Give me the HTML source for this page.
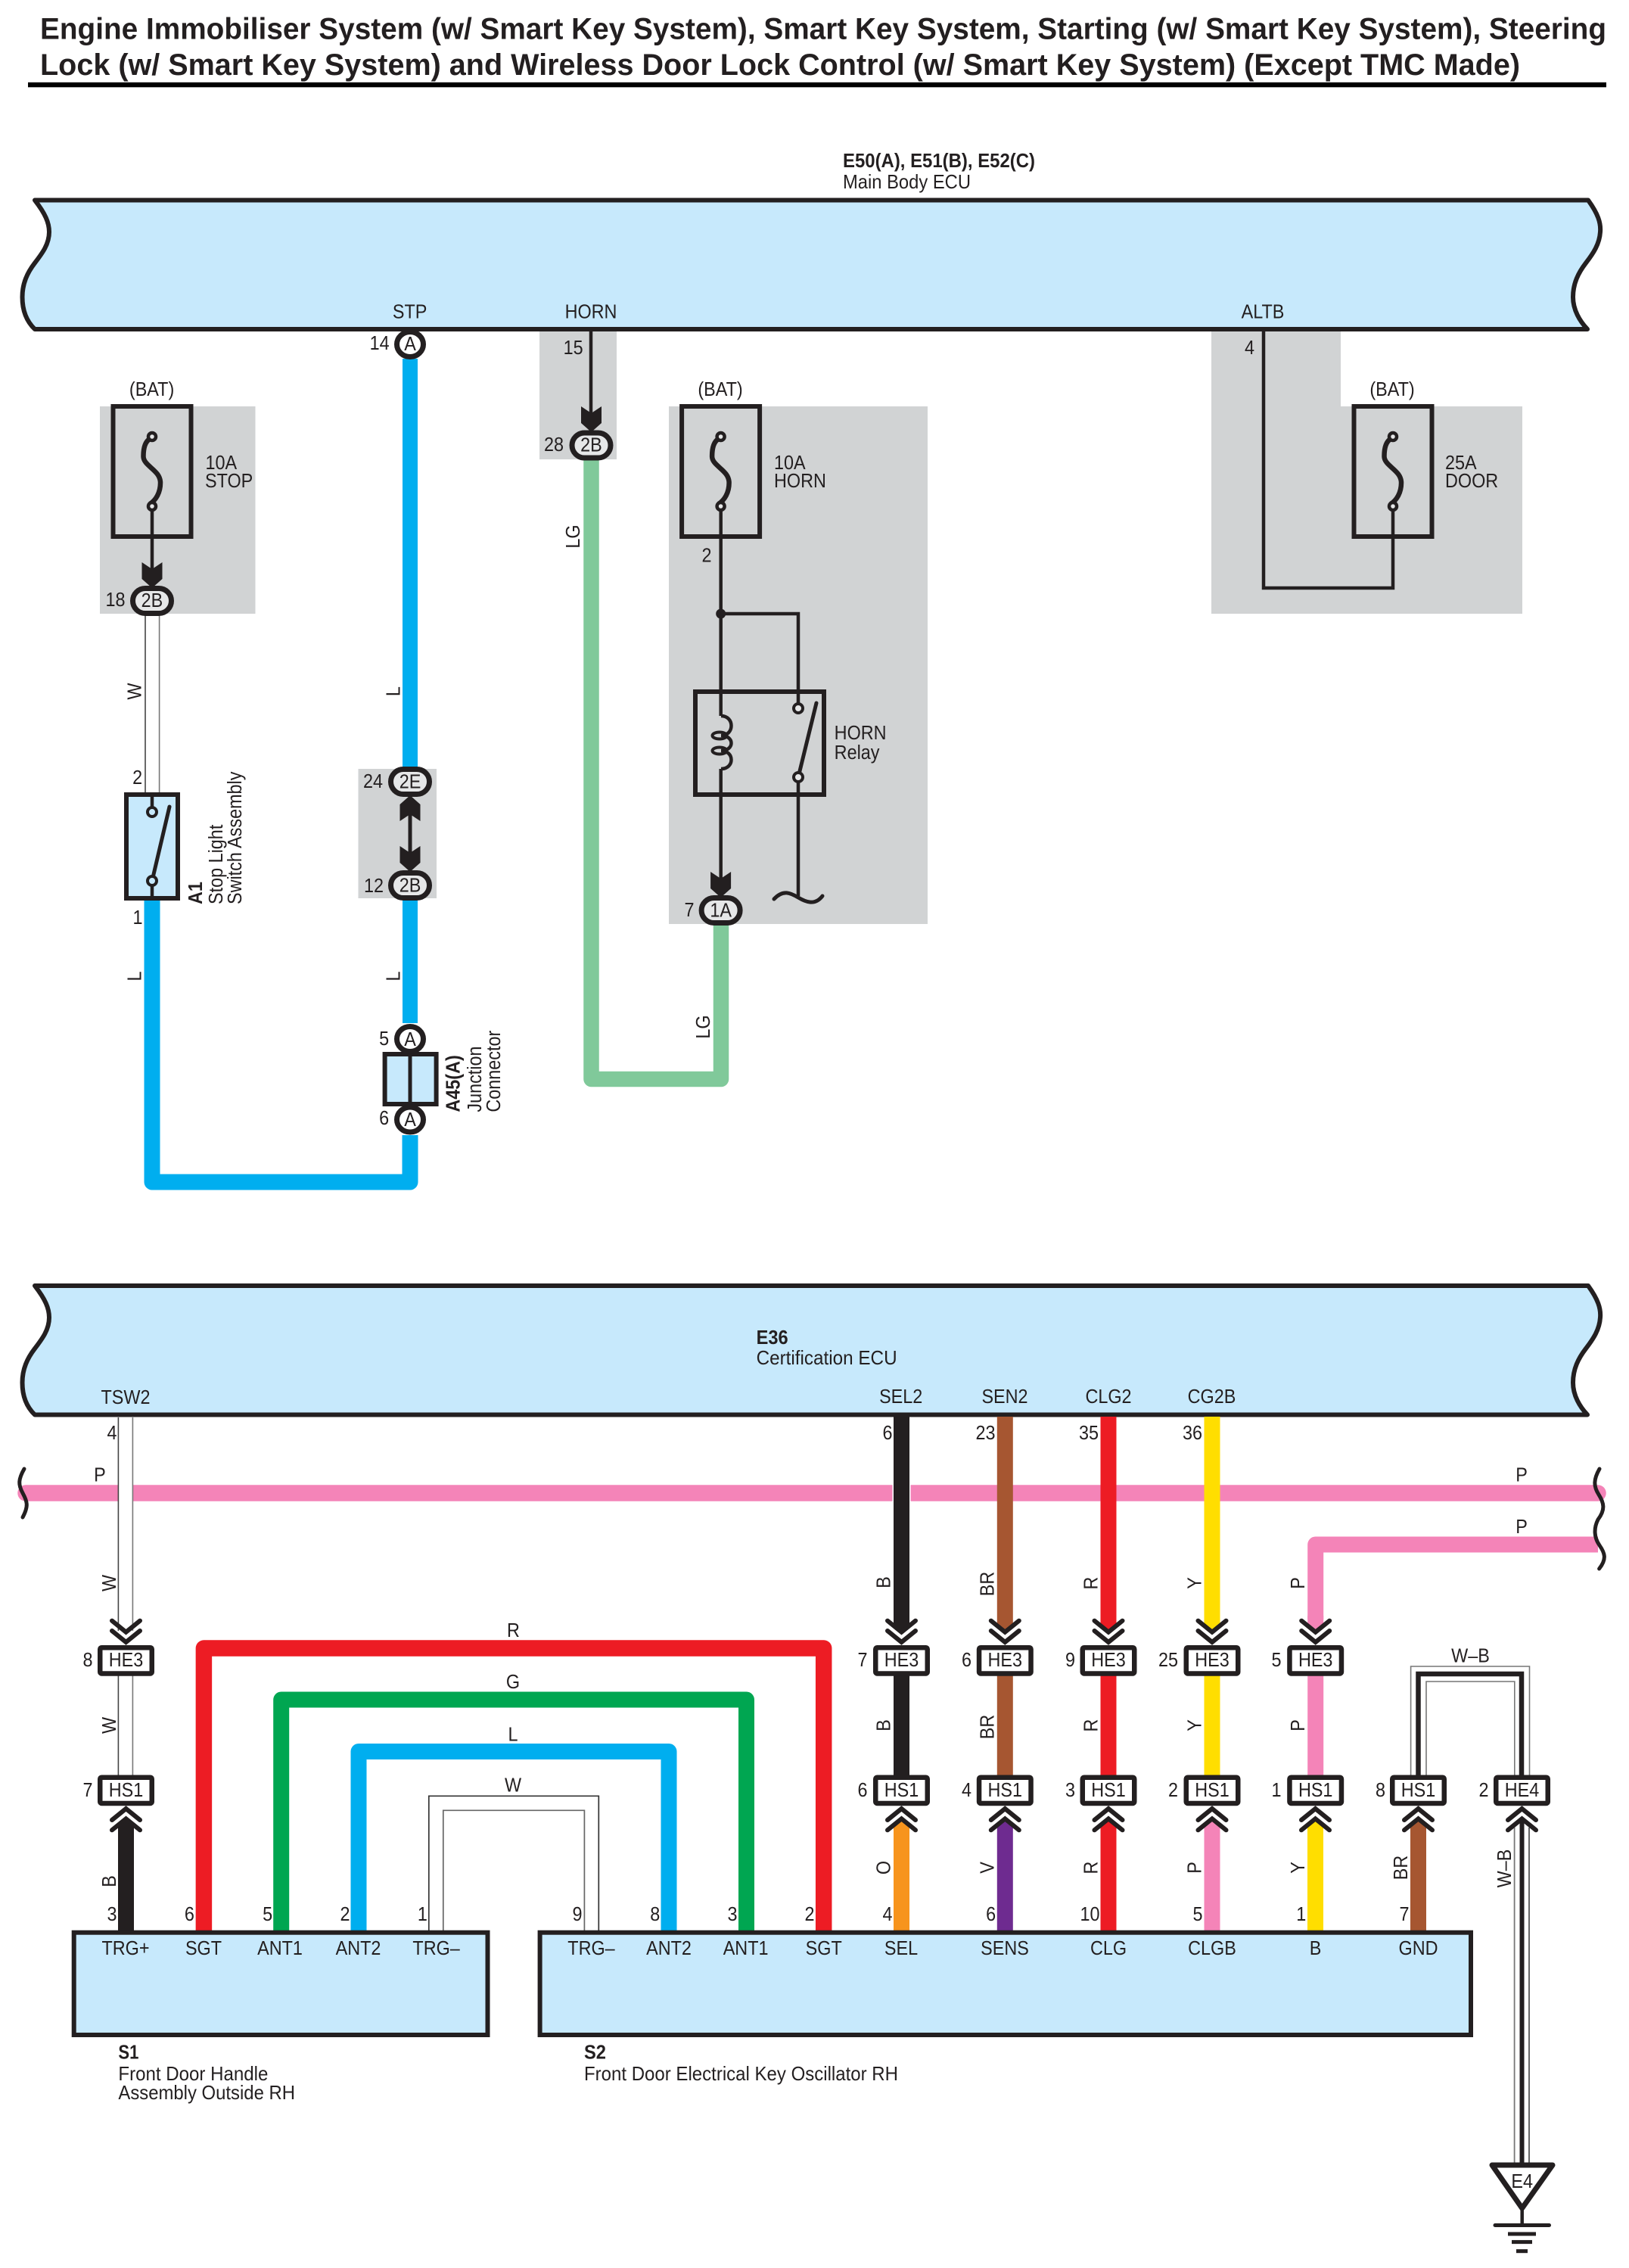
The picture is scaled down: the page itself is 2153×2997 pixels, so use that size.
<!DOCTYPE html>
<html><head><meta charset="utf-8"><style>
html,body{margin:0;padding:0;background:#fff}
svg{display:block}
text{font-family:"Liberation Sans",sans-serif;font-size:26px;fill:#231f20}
.m{text-anchor:middle;transform-box:fill-box;transform-origin:center;transform:scaleX(.9)}
.s{transform-box:fill-box;transform-origin:left center;transform:scaleX(.9)}
.b{font-weight:bold}
.w{fill:none;stroke-linejoin:round}
.k{fill:none;stroke:#231f20;stroke-width:4.5}
</style></head><body>
<svg xmlns="http://www.w3.org/2000/svg" width="2153" height="2997" viewBox="0 0 2153 2997">
<defs>
<path id="ecu" d="M46 0H2099C2112 18 2116 30 2115 42C2114 58 2106 70 2096 83C2086 96 2079 110 2079 128C2079 145 2088 160 2098 170.5H46C35 160 29.5 145 29.5 128C29.5 110 36 96 46 83C56 70 65 58 65 42C65 30 60 18 46 0Z" fill="#c7e9fc" stroke="#231f20" stroke-width="6" stroke-linejoin="round"/>
<g id="fuse"><rect x="-51.5" y="1" width="103" height="172" fill="none" stroke="#231f20" stroke-width="6"/>
<path d="M-3 44C-10 48-11.5 58-11.5 67C-11.5 80 11 85 11 102C11 115 5 125-3 130" fill="none" stroke="#231f20" stroke-width="6.5"/>
<circle cx="0" cy="41" r="5" fill="#e6e7e8" stroke="#231f20" stroke-width="4.5"/><circle cx="0" cy="133" r="5" fill="#e6e7e8" stroke="#231f20" stroke-width="4.5"/></g>
<rect id="pill" x="-25.5" y="-16.5" width="51" height="33" rx="16.5" fill="#e6e7e8" stroke="#231f20" stroke-width="7"/>
<ellipse id="circ" cx="0" cy="0" rx="17.5" ry="16.5" fill="#fff" stroke="#231f20" stroke-width="7"/>
<polygon id="dart" points="-13.5,-32 0,-23 13.5,-32 13.5,-10 0,2 -13.5,-10" fill="#231f20"/>
<g id="cd" fill="none" stroke="#231f20" stroke-width="6" stroke-linecap="round"><path d="M-18.5-32.3L0-17.3L18.5-32.3"/><path d="M-18.5-19L0-4L18.5-19"/></g>
<rect id="bx" x="-34.25" y="3.25" width="68.5" height="34.2" rx="2" fill="#fff" stroke="#231f20" stroke-width="6.5"/>
</defs>

<!-- title -->
<text x="53" y="51.5" class="b" style="font-size:40px" textLength="2070" lengthAdjust="spacingAndGlyphs">Engine Immobiliser System (w/ Smart Key System), Smart Key System, Starting (w/ Smart Key System), Steering</text>
<text x="53" y="99" class="b" style="font-size:40px" textLength="1956" lengthAdjust="spacingAndGlyphs">Lock (w/ Smart Key System) and Wireless Door Lock Control (w/ Smart Key System) (Except TMC Made)</text>
<rect x="37" y="108.8" width="2086" height="6.5" fill="#000"/>

<text x="1114" y="221" class="b" textLength="254" lengthAdjust="spacingAndGlyphs">E50(A), E51(B), E52(C)</text>
<text x="1114" y="249" textLength="169" lengthAdjust="spacingAndGlyphs">Main Body ECU</text>

<!-- gray boxes -->
<g fill="#d1d3d4">
<rect x="132" y="537" width="205.5" height="274"/>
<rect x="713" y="438" width="102" height="169"/>
<rect x="884" y="537" width="342" height="684"/>
<path d="M1601 438H1772V537H2012V811H1601Z"/>
<rect x="473.5" y="1016" width="103.5" height="171"/>
</g>

<use href="#ecu" x="0" y="264.5"/>
<text class="m" x="541.6" y="420.6">STP</text>
<text class="m" x="781" y="420.6">HORN</text>
<text class="m" x="1669" y="420.6">ALTB</text>

<!-- top wires -->
<path class="w" d="M542 474V1013M542 1190V1352" stroke="#00aeef" stroke-width="20"/>
<path class="w" d="M201 1190V1562H542V1500" stroke="#00aeef" stroke-width="21"/>
<path class="w" d="M781.5 608V1426H953V1222" stroke="#80c99a" stroke-width="20.5"/>
<line x1="192" y1="813" x2="192" y2="1048" stroke="#444" stroke-width="1.6"/>
<line x1="210.6" y1="813" x2="210.6" y2="1048" stroke="#777" stroke-width="1.6"/>

<!-- STOP fuse -->
<line x1="201" y1="669" x2="201" y2="760" class="k"/>
<use href="#fuse" x="201" y="536"/>
<use href="#dart" x="201" y="775"/>
<use href="#pill" x="201" y="794"/>
<text class="m" x="201" y="802">2B</text>
<text class="m" x="152.5" y="801">18</text>
<text class="m" x="200.6" y="523">(BAT)</text>
<text class="s" x="271.5" y="620">10A</text>
<text class="s" x="271" y="644">STOP</text>

<!-- 14 A -->
<use href="#circ" x="542" y="455"/>
<text class="m" x="542" y="463">A</text>
<text class="m" x="501.6" y="462">14</text>

<!-- HORN 15 -->
<line x1="781" y1="438" x2="781" y2="550" class="k"/>
<use href="#dart" x="781.5" y="569"/>
<use href="#pill" x="781.5" y="588.5"/>
<text class="m" x="781.5" y="596.5">2B</text>
<text class="m" x="757.6" y="468">15</text>
<text class="m" x="732" y="596">28</text>
<g transform="translate(766,709) rotate(-90)"><text class="m">LG</text></g>
<g transform="translate(938,1357) rotate(-90)"><text class="m">LG</text></g>

<!-- HORN relay -->
<path class="k" d="M952.7 669V946M952.7 1016V1170"/>
<use href="#fuse" x="952.6" y="536"/>
<text class="m" x="952" y="523">(BAT)</text>
<text class="s" x="1023" y="620">10A</text>
<text class="s" x="1023" y="644">HORN</text>
<text class="m" x="934" y="742.6">2</text>
<circle cx="952.7" cy="811" r="6.5" fill="#231f20"/>
<path class="k" d="M952.7 811H1055V930M1055 1033V1184"/>
<rect x="919" y="914" width="170" height="136" fill="none" stroke="#231f20" stroke-width="6"/>
<path d="M953 946C971 946 971 972 953 972C971 972 971 992 953 992C971 992 971 1016 953 1016" fill="none" stroke="#231f20" stroke-width="4.5"/>
<ellipse cx="951" cy="972" rx="9.5" ry="4.5" fill="none" stroke="#231f20" stroke-width="4"/>
<ellipse cx="951" cy="992" rx="9.5" ry="4.5" fill="none" stroke="#231f20" stroke-width="4"/>
<path d="M1055 1027L1079 929" stroke="#231f20" stroke-width="5" stroke-linecap="round"/>
<circle cx="1055" cy="936" r="6" fill="#e6e7e8" stroke="#231f20" stroke-width="4"/>
<circle cx="1055" cy="1027" r="6" fill="#e6e7e8" stroke="#231f20" stroke-width="4"/>
<path d="M1023 1188C1035 1175 1045 1180 1055 1186S1077 1197 1087 1184" fill="none" stroke="#231f20" stroke-width="5" stroke-linecap="round"/>
<text class="s" x="1102.7" y="977">HORN</text>
<text class="s" x="1102.7" y="1003">Relay</text>
<use href="#dart" x="952.6" y="1184"/>
<use href="#pill" x="952.6" y="1203"/>
<text class="m" x="952.6" y="1211.5">1A</text>
<text class="m" x="911" y="1211">7</text>

<!-- ALTB / door -->
<path class="k" d="M1670 438V777H1841V669"/>
<use href="#fuse" x="1841" y="536"/>
<text class="m" x="1651.5" y="468">4</text>
<text class="m" x="1840" y="523">(BAT)</text>
<text class="s" x="1910" y="620">25A</text>
<text class="s" x="1910" y="644">DOOR</text>

<!-- A1 switch -->
<rect x="167" y="1050" width="68" height="137" fill="#c7e9fc" stroke="#231f20" stroke-width="6"/>
<path d="M201 1050V1073M201 1164V1187" stroke="#231f20" stroke-width="4.5"/>
<path d="M201 1164L224 1066" stroke="#231f20" stroke-width="5" stroke-linecap="round"/>
<circle cx="201" cy="1073" r="6" fill="#c7e9fc" stroke="#231f20" stroke-width="4"/>
<circle cx="201" cy="1164" r="6" fill="#c7e9fc" stroke="#231f20" stroke-width="4"/>
<text class="m" x="181.6" y="1036">2</text>
<text class="m" x="182" y="1221">1</text>
<g transform="translate(186.7,913.6) rotate(-90)"><text class="m">W</text></g>
<g transform="translate(186.7,1290) rotate(-90)"><text class="m">L</text></g>
<g transform="translate(528.6,913.6) rotate(-90)"><text class="m">L</text></g>
<g transform="translate(528.6,1290) rotate(-90)"><text class="m">L</text></g>
<g transform="translate(0,1195) rotate(-90)">
<text class="s b" y="267">A1</text>
<text class="s" y="294">Stop Light</text>
<text class="s" y="319">Switch Assembly</text>
</g>

<!-- 2E / 2B -->
<line x1="542" y1="1075" x2="542" y2="1130" stroke="#231f20" stroke-width="5"/>
<use href="#dart" transform="translate(542,1053) scale(1,-1)"/>
<use href="#dart" x="542" y="1150"/>
<use href="#pill" x="542" y="1033"/>
<use href="#pill" x="542" y="1170"/>
<text class="m" x="542" y="1041.5">2E</text>
<text class="m" x="542" y="1178.5">2B</text>
<text class="m" x="493" y="1041">24</text>
<text class="m" x="494" y="1179">12</text>

<!-- A45 -->
<rect x="508.6" y="1393" width="68" height="66" fill="#c7e9fc" stroke="#231f20" stroke-width="6"/>
<line x1="542" y1="1393" x2="542" y2="1459" stroke="#231f20" stroke-width="5"/>
<use href="#circ" x="542" y="1373"/>
<use href="#circ" x="542" y="1479.5"/>
<text class="m" x="542" y="1382">A</text>
<text class="m" x="542" y="1488">A</text>
<text class="m" x="507.6" y="1381">5</text>
<text class="m" x="507.6" y="1486">6</text>
<g transform="translate(0,1469.6) rotate(-90)">
<text class="s b" y="607.6">A45(A)</text>
<text class="s" y="636">Junction</text>
<text class="s" y="661">Connector</text>
</g>

<!-- ==== bottom section ==== -->
<use href="#ecu" x="0" y="1699"/>
<text class="b" x="999.6" y="1776" textLength="42" lengthAdjust="spacingAndGlyphs">E36</text>
<text x="999.6" y="1803" textLength="186" lengthAdjust="spacingAndGlyphs">Certification ECU</text>
<text class="m" x="166" y="1855">TSW2</text>
<text class="m" x="1190.7" y="1854">SEL2</text>
<text class="m" x="1328" y="1854">SEN2</text>
<text class="m" x="1465" y="1854">CLG2</text>
<text class="m" x="1601.5" y="1854">CG2B</text>
<text class="m" x="148" y="1902">4</text>
<text class="m" x="1173" y="1902">6</text>
<text class="m" x="1302.5" y="1902">23</text>
<text class="m" x="1439" y="1902">35</text>
<text class="m" x="1576" y="1902">36</text>

<!-- pink -->
<path d="M34 1973H2112" stroke="#f484b8" stroke-width="21.5" fill="none" stroke-linecap="round"/>
<path class="w" d="M2112 2041H1738.7V2140" stroke="#f484b8" stroke-width="21"/>
<polygon points="1728.2,2135 1749.2,2135 1749.2,2149 1738.7,2157 1728.2,2149" fill="#f484b8"/>
<text class="m" x="132" y="1957.7">P</text>
<text class="m" x="2011" y="1957.4">P</text>
<text class="m" x="2011" y="2026">P</text>
<path d="M32 1941C24 1955 24 1962 30 1973S38 1990 30 2005" fill="none" stroke="#231f20" stroke-width="5" stroke-linecap="round"/>
<path d="M2114 1941C2106 1955 2106 1964 2113 1975S2122 1995 2112 2008C2106 2020 2107 2032 2114 2042S2124 2060 2113.6 2073" fill="none" stroke="#231f20" stroke-width="5" stroke-linecap="round"/>

<!-- white wire TSW2 -->
<rect x="156.4" y="1873" width="19" height="280" fill="#fff"/>
<line x1="156.4" y1="1873" x2="156.4" y2="2155" stroke="#444" stroke-width="1.6"/>
<line x1="175.4" y1="1873" x2="175.4" y2="2155" stroke="#777" stroke-width="1.6"/>
<line x1="156.4" y1="2214" x2="156.4" y2="2346" stroke="#444" stroke-width="1.6"/>
<line x1="175.4" y1="2214" x2="175.4" y2="2346" stroke="#777" stroke-width="1.6"/>

<!-- down wires -->
<rect x="1179.5" y="1873" width="24" height="200" fill="#fff"/>
<polygon points="1181,1872 1202,1872 1202,2149 1191.5,2157 1181,2149" fill="#231f20"/>
<polygon points="1317.8,1872 1338.8,1872 1338.8,2149 1328.3,2157 1317.8,2149" fill="#a65631"/>
<polygon points="1454.5,1872 1475.5,1872 1475.5,2149 1465,2157 1454.5,2149" fill="#ed1c24"/>
<polygon points="1591.5,1872 1612.5,1872 1612.5,2149 1602,2157 1591.5,2149" fill="#ffde00"/>
<!-- mid wires -->
<rect x="1181" y="2214" width="21" height="132" fill="#231f20"/>
<rect x="1317.8" y="2214" width="21" height="132" fill="#a65631"/>
<rect x="1454.5" y="2214" width="21" height="132" fill="#ed1c24"/>
<rect x="1591.5" y="2214" width="21" height="132" fill="#ffde00"/>
<rect x="1728.2" y="2214" width="21" height="132" fill="#f484b8"/>
<!-- up wires -->
<polygon points="156,2551 177,2551 177,2413 166.5,2404 156,2413" fill="#231f20"/>
<polygon points="1181,2551 1202,2551 1202,2413 1191.5,2404 1181,2413" fill="#f7941d"/>
<polygon points="1317.8,2551 1338.8,2551 1338.8,2413 1328.3,2404 1317.8,2413" fill="#6e2b90"/>
<polygon points="1454.5,2551 1475.5,2551 1475.5,2413 1465,2404 1454.5,2413" fill="#ed1c24"/>
<polygon points="1591.5,2551 1612.5,2551 1612.5,2413 1602,2404 1591.5,2413" fill="#f484b8"/>
<polygon points="1728,2551 1749,2551 1749,2413 1738.5,2404 1728,2413" fill="#ffde00"/>
<polygon points="1864,2551 1885,2551 1885,2413 1874.5,2404 1864,2413" fill="#a65631"/>

<!-- loops -->
<path class="w" d="M269.4 2551V2178H1088.7V2551" stroke="#ed1c24" stroke-width="21.5"/>
<path class="w" d="M371.7 2551V2246H986.5V2551" stroke="#00a651" stroke-width="21"/>
<path class="w" d="M474 2551V2314.5H884V2551" stroke="#00aeef" stroke-width="21"/>
<path d="M566.8 2551V2373.3H791.3V2551" fill="none" stroke="#333" stroke-width="1.7"/>
<path d="M585.8 2551V2392.3H772.4V2551" fill="none" stroke="#666" stroke-width="1.7"/>
<text class="m" x="678.4" y="2163">R</text>
<text class="m" x="678" y="2231">G</text>
<text class="m" x="678" y="2300.5">L</text>
<text class="m" x="678" y="2367.7">W</text>

<!-- W-B loop -->
<path d="M1864.6 2346V2202H2021.5V2346" fill="none" stroke="#777" stroke-width="1.6"/>
<path d="M1885 2346V2222H2001.8V2346" fill="none" stroke="#777" stroke-width="1.6"/>
<path d="M1874.5 2346V2212H2011V2346" fill="none" stroke="#231f20" stroke-width="6.5"/>
<text class="m" x="1943.5" y="2196.6">W–B</text>
<!-- lower triple -->
<line x1="2001.6" y1="2415" x2="2001.6" y2="2860" stroke="#777" stroke-width="1.8"/>
<line x1="2021" y1="2415" x2="2021" y2="2860" stroke="#555" stroke-width="1.8"/>
<line x1="2011.5" y1="2405" x2="2011.5" y2="2860" stroke="#231f20" stroke-width="6"/>

<!-- chevrons -->
<use href="#cd" x="166.5" y="2174"/><use href="#cd" x="1191.5" y="2174"/><use href="#cd" x="1328.3" y="2174"/><use href="#cd" x="1465" y="2174"/><use href="#cd" x="1602" y="2174"/><use href="#cd" x="1738.7" y="2174"/>
<use href="#cd" transform="translate(166.5,2386) scale(1,-1)"/><use href="#cd" transform="translate(1191.5,2386) scale(1,-1)"/><use href="#cd" transform="translate(1328.3,2386) scale(1,-1)"/><use href="#cd" transform="translate(1465,2386) scale(1,-1)"/><use href="#cd" transform="translate(1602,2386) scale(1,-1)"/><use href="#cd" transform="translate(1738.5,2386) scale(1,-1)"/><use href="#cd" transform="translate(1874.5,2386) scale(1,-1)"/><use href="#cd" transform="translate(2011.5,2386) scale(1,-1)"/>

<!-- HE3 boxes -->
<use href="#bx" x="166.5" y="2174"/><use href="#bx" x="1191.5" y="2174"/><use href="#bx" x="1328.3" y="2174"/><use href="#bx" x="1465" y="2174"/><use href="#bx" x="1602" y="2174"/><use href="#bx" x="1738.7" y="2174"/>
<text class="m" x="166.5" y="2202">HE3</text><text class="m" x="1191.5" y="2202">HE3</text><text class="m" x="1328.3" y="2202">HE3</text><text class="m" x="1465" y="2202">HE3</text><text class="m" x="1602" y="2202">HE3</text><text class="m" x="1738.7" y="2202">HE3</text>
<text class="m" x="116" y="2202">8</text><text class="m" x="1140" y="2202">7</text><text class="m" x="1277.5" y="2202">6</text><text class="m" x="1414.5" y="2202">9</text><text class="m" x="1544" y="2202">25</text><text class="m" x="1687" y="2202">5</text>
<!-- HS1 boxes -->
<use href="#bx" x="166.5" y="2345.5"/><use href="#bx" x="1191.5" y="2345.5"/><use href="#bx" x="1328.3" y="2345.5"/><use href="#bx" x="1465" y="2345.5"/><use href="#bx" x="1602" y="2345.5"/><use href="#bx" x="1738.7" y="2345.5"/><use href="#bx" x="1874.5" y="2345.5"/><use href="#bx" x="2011.5" y="2345.5"/>
<text class="m" x="166.5" y="2374">HS1</text><text class="m" x="1191.5" y="2374">HS1</text><text class="m" x="1328.3" y="2374">HS1</text><text class="m" x="1465" y="2374">HS1</text><text class="m" x="1602" y="2374">HS1</text><text class="m" x="1738.7" y="2374">HS1</text><text class="m" x="1874.5" y="2374">HS1</text><text class="m" x="2011.5" y="2374">HE4</text>
<text class="m" x="116" y="2374">7</text><text class="m" x="1140" y="2374">6</text><text class="m" x="1277.5" y="2374">4</text><text class="m" x="1414.5" y="2374">3</text><text class="m" x="1550.5" y="2374">2</text><text class="m" x="1687" y="2374">1</text><text class="m" x="1824.5" y="2374">8</text><text class="m" x="1961" y="2374">2</text>

<!-- rotated wire labels -->
<g transform="translate(153,2092) rotate(-90)"><text class="m">W</text></g>
<g transform="translate(153,2280) rotate(-90)"><text class="m">W</text></g>
<g transform="translate(153,2486) rotate(-90)"><text class="m">B</text></g>
<g transform="translate(1176.5,2091) rotate(-90)"><text class="m">B</text></g>
<g transform="translate(1176.5,2280) rotate(-90)"><text class="m">B</text></g>
<g transform="translate(1313.5,2093) rotate(-90)"><text class="m">BR</text></g>
<g transform="translate(1313.5,2282) rotate(-90)"><text class="m">BR</text></g>
<g transform="translate(1450.5,2092) rotate(-90)"><text class="m">R</text></g>
<g transform="translate(1450.5,2280) rotate(-90)"><text class="m">R</text></g>
<g transform="translate(1587.5,2092) rotate(-90)"><text class="m">Y</text></g>
<g transform="translate(1587.5,2280) rotate(-90)"><text class="m">Y</text></g>
<g transform="translate(1724,2092) rotate(-90)"><text class="m">P</text></g>
<g transform="translate(1724,2280) rotate(-90)"><text class="m">P</text></g>
<g transform="translate(1176.5,2468) rotate(-90)"><text class="m">O</text></g>
<g transform="translate(1313.5,2468) rotate(-90)"><text class="m">V</text></g>
<g transform="translate(1450.5,2468) rotate(-90)"><text class="m">R</text></g>
<g transform="translate(1587.5,2468) rotate(-90)"><text class="m">P</text></g>
<g transform="translate(1724,2468) rotate(-90)"><text class="m">Y</text></g>
<g transform="translate(1860,2468) rotate(-90)"><text class="m">BR</text></g>
<g transform="translate(1997,2469) rotate(-90)"><text class="m">W–B</text></g>

<!-- component boxes -->
<rect x="97.7" y="2553.7" width="546.8" height="135.3" fill="#c7e9fc" stroke="#231f20" stroke-width="6"/>
<rect x="713.6" y="2553.7" width="1230.4" height="135.3" fill="#c7e9fc" stroke="#231f20" stroke-width="6"/>
<g>
<text class="m" x="148" y="2538">3</text><text class="m" x="250.4" y="2538">6</text><text class="m" x="353.6" y="2538">5</text><text class="m" x="456" y="2538">2</text><text class="m" x="558.4" y="2538">1</text>
<text class="m" x="763" y="2538">9</text><text class="m" x="865.7" y="2538">8</text><text class="m" x="968" y="2538">3</text><text class="m" x="1070" y="2538">2</text><text class="m" x="1173" y="2538">4</text><text class="m" x="1309.6" y="2538">6</text><text class="m" x="1440.5" y="2538">10</text><text class="m" x="1583" y="2538">5</text><text class="m" x="1719.7" y="2538">1</text><text class="m" x="1856" y="2538">7</text>
<text class="m" x="166" y="2583">TRG+</text><text class="m" x="269" y="2583">SGT</text><text class="m" x="370" y="2583">ANT1</text><text class="m" x="473.5" y="2583">ANT2</text><text class="m" x="576.6" y="2583">TRG–</text>
<text class="m" x="781.5" y="2583">TRG–</text><text class="m" x="884" y="2583">ANT2</text><text class="m" x="985.6" y="2583">ANT1</text><text class="m" x="1088.7" y="2583">SGT</text><text class="m" x="1191" y="2583">SEL</text><text class="m" x="1328" y="2583">SENS</text><text class="m" x="1465" y="2583">CLG</text><text class="m" x="1602" y="2583">CLGB</text><text class="m" x="1738.5" y="2583">B</text><text class="m" x="1874.5" y="2583">GND</text>
</g>
<text class="b" x="156.4" y="2720.7" textLength="27" lengthAdjust="spacingAndGlyphs">S1</text>
<text x="156.4" y="2749" textLength="198" lengthAdjust="spacingAndGlyphs">Front Door Handle</text>
<text x="156.4" y="2774" textLength="233.6" lengthAdjust="spacingAndGlyphs">Assembly Outside RH</text>
<text class="b" x="772" y="2720.7" textLength="29" lengthAdjust="spacingAndGlyphs">S2</text>
<text x="772" y="2749" textLength="415" lengthAdjust="spacingAndGlyphs">Front Door Electrical Key Oscillator RH</text>

<!-- ground -->
<polygon points="1972,2861 2052,2861 2011.7,2918" fill="#fff" stroke="#231f20" stroke-width="7" stroke-linejoin="round"/>
<text class="m" x="2011.7" y="2891">E4</text>
<line x1="2011.7" y1="2918" x2="2011.7" y2="2940" stroke="#231f20" stroke-width="4.5"/>
<line x1="1976" y1="2940.5" x2="2047.5" y2="2940.5" stroke="#231f20" stroke-width="5" stroke-linecap="round"/>
<line x1="1993" y1="2952" x2="2030" y2="2952" stroke="#231f20" stroke-width="5"/>
<line x1="1998" y1="2962.6" x2="2025" y2="2962.6" stroke="#231f20" stroke-width="5"/>
<line x1="2004" y1="2974.7" x2="2019" y2="2974.7" stroke="#231f20" stroke-width="5"/>
</svg>
</body></html>
